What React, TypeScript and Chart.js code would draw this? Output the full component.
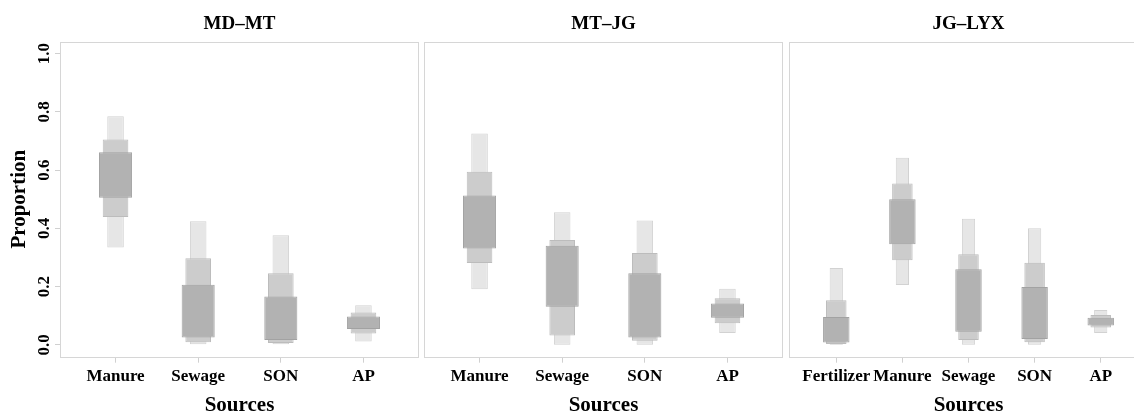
import React, { useEffect, useRef } from "react";
import { Chart, registerables } from "chart.js";

Chart.register(...registerables);

// ---------- data ----------
const titles = ["MD–MT", "MT–JG", "JG–LYX"];
const xTitle = "Sources";
const yTitle = "Proportion";
const yTicks = [0, 0.2, 0.4, 0.6, 0.8, 1.0];

const mdmtCats = ["Manure", "Sewage", "SON", "AP"];
const mdmtCI95 = [[0.334, 0.785], [0.0, 0.424], [0.002, 0.376], [0.011, 0.136]];
const mdmtCI75 = [[0.439, 0.705], [0.009, 0.297], [0.006, 0.246], [0.039, 0.111]];
const mdmtCI50 = [[0.505, 0.661], [0.025, 0.206], [0.016, 0.166], [0.054, 0.097]];

const mtjgCats = ["Manure", "Sewage", "SON", "AP"];
const mtjgCI95 = [[0.191, 0.726], [0.0, 0.455], [0.0, 0.427], [0.04, 0.192]];
const mtjgCI75 = [[0.281, 0.594], [0.032, 0.36], [0.014, 0.315], [0.074, 0.16]];
const mtjgCI50 = [[0.331, 0.513], [0.131, 0.34], [0.025, 0.246], [0.093, 0.142]];

const jglyxCats = ["Fertilizer", "Manure", "Sewage", "SON", "AP"];
const jglyxCI95 = [[0.0, 0.264], [0.205, 0.642], [0.0, 0.433], [0.0, 0.4], [0.04, 0.119]];
const jglyxCI75 = [[0.003, 0.153], [0.29, 0.554], [0.016, 0.311], [0.009, 0.282], [0.059, 0.102]];
const jglyxCI50 = [[0.008, 0.095], [0.345, 0.5], [0.045, 0.259], [0.02, 0.198], [0.066, 0.093]];

// ---------- style ----------
const FONT = "'Liberation Serif', 'Times New Roman', serif";
const CANVAS_H = 420;

const boxPlugin = {
  id: "plotBox",
  beforeDatasetsDraw(chart: any) {
    const { ctx, chartArea: a } = chart;
    ctx.save();
    ctx.strokeStyle = "#d6d6d6";
    ctx.lineWidth = 1;
    const l = Math.round(a.left) - 0.5;
    const t = Math.round(a.top) + 0.5;
    const r = Math.round(a.right) + 0.5;
    const b = Math.round(a.bottom) + 0.5;
    ctx.strokeRect(l, t, r - l, b - t);
    ctx.restore();
  },
};

type PanelProps = {
  title: string;
  cats: string[];
  ci95: number[][];
  ci75: number[][];
  ci50: number[][];
  showY: boolean;
  left: number;
  width: number;
  padLeft: number;
};

function Panel({ title, cats, ci95, ci75, ci50, showY, left, width, padLeft }: PanelProps) {
  const ref = useRef<HTMLCanvasElement | null>(null);
  useEffect(() => {
    if (!ref.current) return;
    const n = cats.length;
    const toPts = (arr: number[][]) => arr.map((v, i) => ({ x: i + 1, y: v }));
    const chart = new Chart(ref.current, {
      type: "bar",
      data: {
        datasets: [
          {
            label: "95%",
            data: toPts(ci95) as any,
            backgroundColor: "#e6e6e6",
            borderColor: "#d2d2d2",
            borderWidth: 1,
            borderSkipped: false,
            grouped: false,
            categoryPercentage: 1,
            barPercentage: 0.2,
            order: 3,
          },
          {
            label: "75%",
            data: toPts(ci75) as any,
            backgroundColor: "#cccccc",
            borderColor: "#bcbcbc",
            borderWidth: 1,
            borderSkipped: false,
            grouped: false,
            categoryPercentage: 1,
            barPercentage: 0.31,
            order: 2,
          },
          {
            label: "50%",
            data: toPts(ci50) as any,
            backgroundColor: "#b2b2b2",
            borderColor: "#a2a2a2",
            borderWidth: 1,
            borderSkipped: false,
            grouped: false,
            categoryPercentage: 1,
            barPercentage: 0.4,
            order: 1,
          },
        ],
      },
      options: {
        animation: false,
        responsive: false,
        maintainAspectRatio: false,
        layout: { padding: { left: padLeft, right: 2, top: 0, bottom: 0 } },
        plugins: { legend: { display: false }, tooltip: { enabled: false } },
        scales: {
          x: {
            type: "linear",
            position: "bottom",
            min: 0.5 - 0.04 * n,
            max: n + 0.5 + 0.04 * n,
            offset: false,
            afterBuildTicks: (s: any) => {
              s.ticks = cats.map((_, i) => ({ value: i + 1 }));
            },
            ticks: {
              autoSkip: false,
              maxRotation: 0,
              minRotation: 0,
              padding: 4,
              color: "#000",
              font: { family: FONT, size: 17, weight: "bold" },
              callback: (_v: any, i: number) => cats[i],
            },
            grid: {
              display: true,
              offset: false,
              drawOnChartArea: false,
              drawTicks: true,
              tickLength: 6,
              color: "#d0d0d0",
            },
            border: { display: false },
            title: {
              display: true,
              text: xTitle,
              color: "#000",
              font: { family: FONT, size: 21, weight: "bold" },
              padding: { top: 0, bottom: 2 },
            },
            afterFit: (s: any) => {
              s.height = CANVAS_H - 356.7;
            },
          },
          x2: {
            type: "linear",
            axis: "x",
            position: "top",
            display: true,
            min: 0,
            max: 1,
            ticks: { display: false },
            grid: { display: false, drawTicks: false },
            border: { display: false },
            title: {
              display: true,
              text: title,
              color: "#000",
              font: { family: FONT, size: 19, weight: "bold" },
              padding: { top: 13, bottom: 0 },
            },
            afterFit: (s: any) => {
              s.height = 41.7;
            },
          },
          y: {
            type: "linear",
            display: showY,
            min: -0.041,
            max: 1.041,
            afterBuildTicks: (s: any) => {
              s.ticks = yTicks.map((v) => ({ value: v }));
            },
            ticks: {
              minRotation: 90,
              maxRotation: 90,
              crossAlign: "center",
              padding: 0,
              color: "#000",
              font: { family: FONT, size: 17, weight: "bold" },
              callback: (v: any) => Number(v).toFixed(1),
            },
            grid: { display: true, drawOnChartArea: false, drawTicks: true, tickLength: 6, color: "#d0d0d0" },
            border: { display: false },
            title: {
              display: true,
              text: yTitle,
              color: "#000",
              font: { family: FONT, size: 21, weight: "bold" },
              padding: { top: 7, bottom: 0 },
            },
            afterFit: (s: any) => {
              s.width = showY ? 61 : 0;
            },
          },
        },
      } as any,
      plugins: [boxPlugin],
    });
    return () => chart.destroy();
  }, []);
  return (
    <canvas
      ref={ref}
      width={width}
      height={CANVAS_H}
      style={{ position: "absolute", left, top: 0, width, height: CANVAS_H }}
    />
  );
}

export default function App() {
  return (
    <div
      style={{
        position: "absolute",
        left: 0,
        top: 0,
        width: 1134,
        height: 414,
        overflow: "hidden",
        background: "#fff",
      }}
    >
      <Panel title={titles[0]} cats={mdmtCats} ci95={mdmtCI95} ci75={mdmtCI75} ci50={mdmtCI50} showY={true} left={0} width={420} padLeft={0} />
      <Panel title={titles[1]} cats={mtjgCats} ci95={mtjgCI95} ci75={mtjgCI75} ci50={mtjgCI50} showY={false} left={420} width={364} padLeft={5} />
      <Panel title={titles[2]} cats={jglyxCats} ci95={jglyxCI95} ci75={jglyxCI75} ci50={jglyxCI50} showY={false} left={785} width={364} padLeft={5} />
    </div>
  );
}
